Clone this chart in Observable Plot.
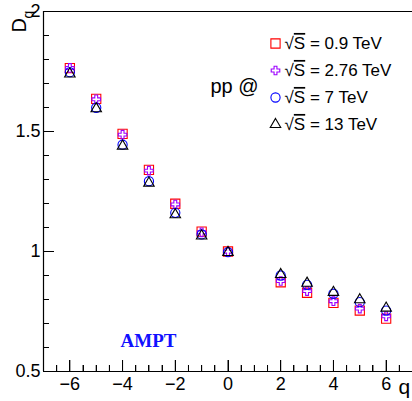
<!DOCTYPE html>
<html><head><meta charset="utf-8">
<script src="https://cdn.jsdelivr.net/npm/d3@7"></script>
<script src="https://cdn.jsdelivr.net/npm/@observablehq/plot@0.6"></script>
<style>
html,body{margin:0;padding:0;background:#fff;}
#chart svg{display:block;}
</style></head><body><div id="chart"></div>
<script>
// ---- data ----
const qValues = [-6, -5, -4, -3, -2, -1, 0, 2, 3, 4, 5, 6];
const dq_0p9  = [1.764, 1.636, 1.490, 1.340, 1.199, 1.083, 1.000, 0.872, 0.828, 0.786, 0.754, 0.720];
const dq_2p76 = [1.765, 1.634, 1.487, 1.337, 1.196, 1.080, 0.999, 0.877, 0.835, 0.793, 0.762, 0.730];
const dq_7    = [1.747, 1.599, 1.445, 1.293, 1.161, 1.071, 0.997, 0.900, 0.861, 0.824, 0.789, 0.754];
const dq_13   = [1.740, 1.595, 1.439, 1.285, 1.153, 1.065, 0.996, 0.904, 0.868, 0.830, 0.799, 0.764];
const seriesNames = ["0.9 TeV", "2.76 TeV", "7 TeV", "13 TeV"];
const xDomain = [-7, 7];
const yDomain = [0.5, 2];
const xTickValues = [-6, -4, -2, 0, 2, 4, 6];
const xTickLabels = ["\u22126", "\u22124", "\u22122", "0", "2", "4", "6"];
const yTickValues = [0.5, 1, 1.5, 2];
const yTickLabels = ["0.5", "1", "1.5", "2"];

// ---- styles ----
const seriesValues = [dq_0p9, dq_2p76, dq_7, dq_13];
const seriesSymbols = ["square", "cross", "circle", "triangle"];
const seriesColors = ["#ff0000", "#9d00ff", "#0000ff", "#000000"];
const seriesR = [5.2, 3.6, 4.6, 3.9];

const W = 412, H = 401;
const mL = 43, mT = 11, mB = 30, mR = 0;
const plotW = W - mL - mR, plotH = H - mT - mB;

const xMinor = d3.range(-6.5, 7, 0.5).filter(v => !xTickValues.includes(v));
const yMinor = d3.range(6, 20).map(v => v / 10).filter(v => !yTickValues.includes(v));

const marks = [];
// frame (left, bottom, top)
marks.push(Plot.ruleX([xDomain[0]], {y1: yDomain[0], y2: yDomain[1], stroke: "#000", strokeWidth: 1.2}));
marks.push(Plot.ruleY(yDomain, {x1: xDomain[0], x2: xDomain[1], stroke: "#000", strokeWidth: 1.2}));

// inward ticks
marks.push(Plot.tickY(yTickValues, {y: d => d, insetRight: plotW - 11, stroke: "#000", strokeWidth: 1}));
marks.push(Plot.tickY(yMinor, {y: d => d, insetRight: plotW - 6, stroke: "#000", strokeWidth: 1}));
marks.push(Plot.tickX(xTickValues, {x: d => d, insetTop: plotH - 11, stroke: "#000", strokeWidth: 1}));
marks.push(Plot.tickX(xMinor, {x: d => d, insetTop: plotH - 6, stroke: "#000", strokeWidth: 1}));

// tick labels
marks.push(Plot.text(yTickValues, {y: d => d, text: (d, i) => yTickLabels[i], frameAnchor: "left",
  textAnchor: "end", lineAnchor: "middle", dx: -3, fontSize: 18, fill: "#000"}));
marks.push(Plot.text(xTickValues, {x: d => d, text: (d, i) => xTickLabels[i], frameAnchor: "bottom",
  textAnchor: "middle", lineAnchor: "top", dy: 6, fontSize: 18, fill: "#000"}));

// data points
seriesValues.forEach((vals, s) => {
  const rows = qValues.map((q, i) => ({q, d: vals[i]}));
  marks.push(Plot.dot(rows, {x: "q", y: "d", symbol: seriesSymbols[s], stroke: seriesColors[s],
    fill: "none", strokeWidth: 1.1, r: seriesR[s]}));
});

// legend
const legX = 275 - mL, legY0 = 43 - mT, legGap = 27;
seriesNames.forEach((name, s) => {
  marks.push(Plot.dot([0], {frameAnchor: "top-left", dx: legX, dy: legY0 + s * legGap,
    symbol: seriesSymbols[s], stroke: seriesColors[s], fill: "none", strokeWidth: 1.1, r: seriesR[s]}));
  marks.push(Plot.text(["\u221aS = " + name], {frameAnchor: "top-left", dx: legX + 9, dy: legY0 + s * legGap,
    textAnchor: "start", lineAnchor: "middle", fontSize: 17, fill: "#000"}));
});
marks.push(Plot.text(["pp @"], {frameAnchor: "top-left", dx: 210 - mL, dy: 92 - mT,
  textAnchor: "start", lineAnchor: "bottom", fontSize: 20, fill: "#000"}));

// AMPT tag
marks.push(Plot.text(["AMPT"], {frameAnchor: "bottom-left", dx: 120 - mL, dy: 346 - (H - mB),
  textAnchor: "start", lineAnchor: "bottom", fontSize: 19, fontWeight: "bold",
  fontFamily: "Liberation Serif, Times New Roman, serif", fill: "#1010ff"}));

// axis titles
marks.push(Plot.text(["D"], {frameAnchor: "top-left", dx: 25 - mL, dy: 32 - mT, rotate: -90,
  textAnchor: "start", lineAnchor: "bottom", fontSize: 20, fill: "#000"}));
marks.push(Plot.text(["q"], {frameAnchor: "top-left", dx: 32 - mL, dy: 18 - mT, rotate: -90,
  textAnchor: "start", lineAnchor: "bottom", fontSize: 14, fill: "#000"}));
marks.push(Plot.text(["q"], {frameAnchor: "bottom-right", dx: 398 - W, dy: 393 - (H - mB),
  textAnchor: "start", lineAnchor: "bottom", fontSize: 21, fill: "#000"}));

const svg = Plot.plot({
  width: W, height: H,
  marginLeft: mL, marginTop: mT, marginBottom: mB, marginRight: mR,
  x: {domain: xDomain, axis: null, label: null},
  y: {domain: yDomain, axis: null, label: null},
  style: {fontFamily: "Liberation Sans, Arial, sans-serif", fontSize: "18px", background: "#fff"},
  marks
});

// radical overline on S in legend entries
d3.select(svg).selectAll("text").filter(function() { return this.textContent.startsWith("\u221aS"); })
  .each(function() {
    const t = this.textContent;
    const el = d3.select(this);
    el.text("");
    el.append("tspan").text("\u221a");
    el.append("tspan").style("text-decoration", "overline").text("S");
    el.append("tspan").text(t.slice(2));
  });

document.getElementById("chart").appendChild(svg);

// ticks again, on top of everything, placed with Plot's own scales
const sx = svg.scale("x"), sy = svg.scale("y");
const tg = d3.select(svg).append("g").attr("class", "inward-ticks");
yTickValues.concat(yMinor).forEach(v => {
  const len = yTickValues.includes(v) ? 11 : 6, yy = Math.round(sy.apply(v)) + 0.5;
  tg.append("line").attr("x1", mL).attr("x2", mL + len).attr("y1", yy).attr("y2", yy)
    .attr("stroke", "black").attr("stroke-width", 1);
});
xTickValues.concat(xMinor).forEach(v => {
  const len = xTickValues.includes(v) ? 11 : 6, xx = Math.round(sx.apply(v)) + 0.5;
  tg.append("line").attr("x1", xx).attr("x2", xx).attr("y1", H - mB).attr("y2", H - mB - len)
    .attr("stroke", "black").attr("stroke-width", 1);
});
</script>
</body></html>
